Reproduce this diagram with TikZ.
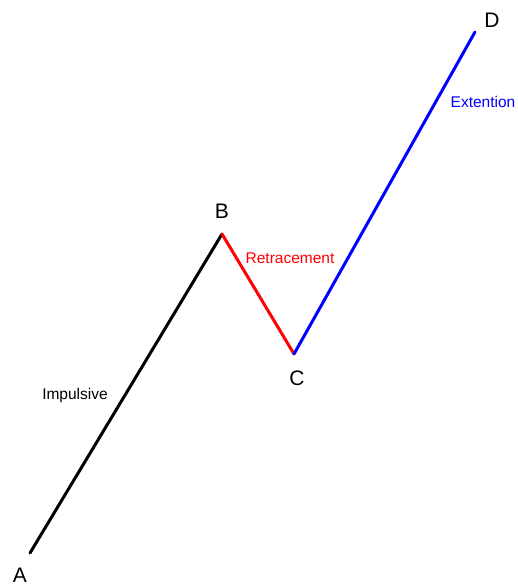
\documentclass[tikz,border=0pt]{standalone}
\usepackage{fontspec}
\setmainfont{Liberation Sans}
\usepackage{tikz}

\begin{document}
\begin{tikzpicture}[x=1pt, y=-1pt,
    leg/.style={line width=3pt, line cap=round},
    pt/.style={font=\fontsize{21}{24}\selectfont},
    lbl/.style={font=\fontsize{15.5}{18}\selectfont}]
    \useasboundingbox (0, 0) rectangle (517, 586);
    \coordinate (a) at (30, 553);
    \coordinate (b) at (222, 234);
    \coordinate (c) at (294, 354);
    \coordinate (d) at (475, 32);

    \node[pt] (la) at (20, 575) {A};
    \node[pt] (lb) at (222, 211) {B};
    \node[pt] (lc) at (297, 378) {C};
    \node[pt] (ld) at (492, 20) {D};

    \node[lbl] (imp) at (75, 395) {Impulsive};
    \node[lbl, text=red] (ret) at (290, 258) {Retracement};
    \node[lbl, text=blue] (ext) at (483, 102) {Extention};

    \draw[leg, black] (a) -- (b);
    \draw[leg, red] (b) -- (c);
    \draw[leg, blue] (c) -- (d);
\end{tikzpicture}
\end{document}
